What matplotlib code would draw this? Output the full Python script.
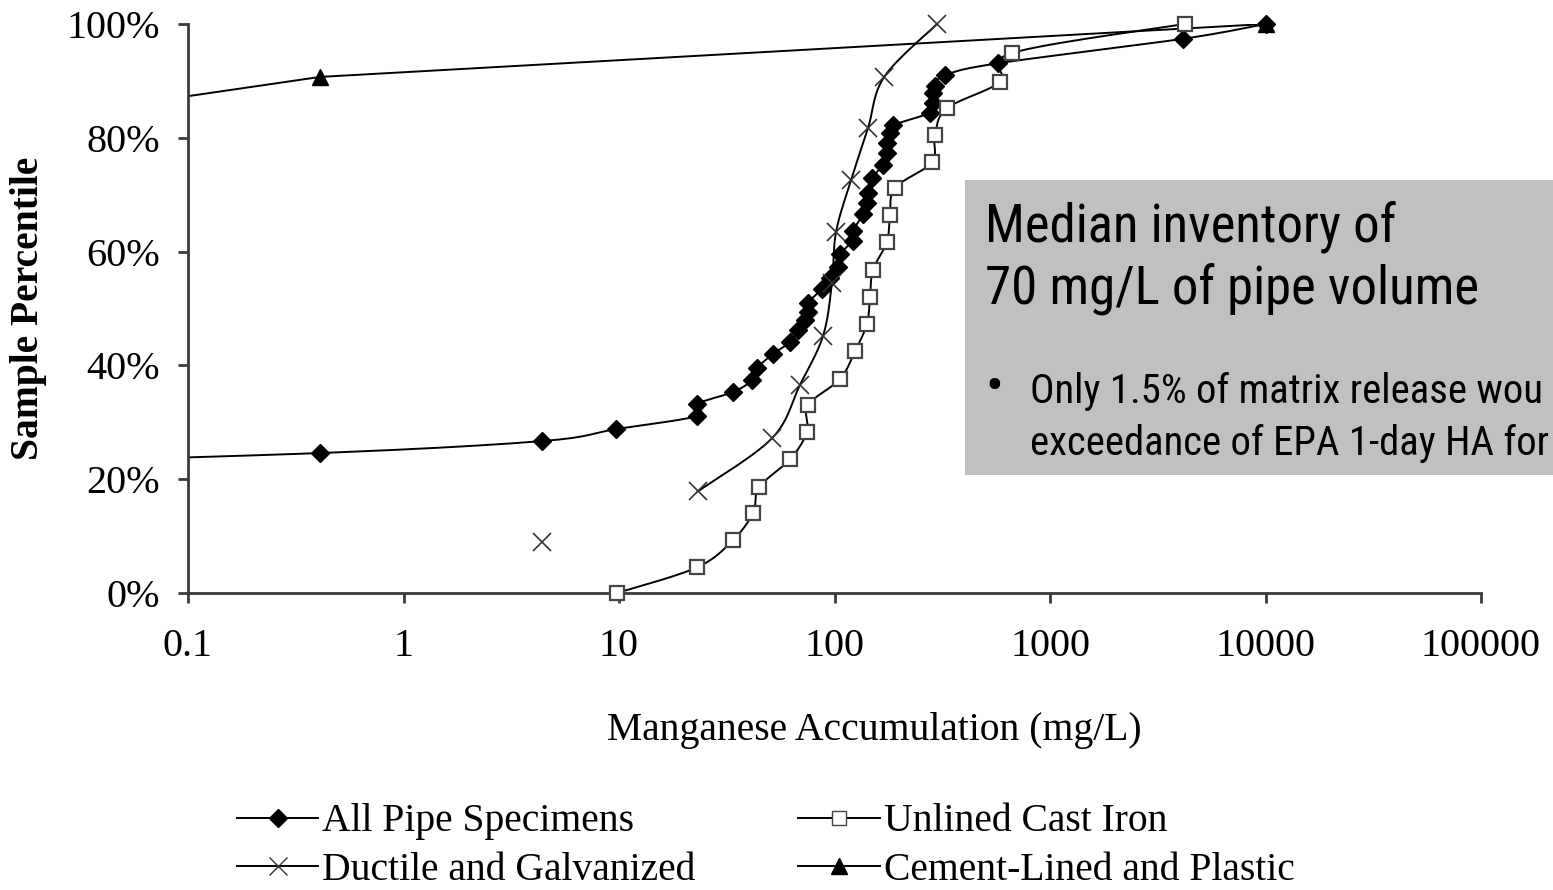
#!/usr/bin/env python3
"""Cumulative distribution of manganese accumulation by pipe material."""

import matplotlib

matplotlib.use("Agg")
import matplotlib.pyplot as plt
import numpy as np
from matplotlib import font_manager
from matplotlib.lines import Line2D
from matplotlib.patches import Rectangle
from matplotlib.ticker import FixedLocator, FuncFormatter, NullLocator

# values (mg/L, sample percentile %)
all_x = [0.006, 0.41, 4.4, 9.7, 23.0, 23.0, 33.8, 41.4, 43.6, 51.9, 62.2, 67.8, 73.0,
         75.3, 75.3, 87.5, 95.3, 103.8, 106, 122, 122, 135.6, 141.5, 143, 149, 168,
         175, 175, 181, 187, 277, 286, 286, 292, 326, 574, 4140, 10000]
all_y = [22.5, 24.6, 26.7, 28.8, 31.1, 33.2, 35.3, 37.4, 39.5, 42.0, 44.1, 46.2, 48.0,
         49.4, 51.0, 53.4, 55.4, 57.3, 59.6, 61.9, 63.6, 66.6, 68.5, 70.3, 72.9, 75.2,
         77.3, 79.1, 80.8, 82.2, 84.4, 86.1, 87.9, 89.1, 91.0, 93.1, 97.4, 100]

cast_x = [9.8, 23.0, 33.8, 41.9, 44.7, 62.2, 74.5, 75.3, 106, 124.5, 141.5, 146, 151,
          175, 181, 191, 283, 292, 333, 586, 667, 4230]
cast_y = [0, 4.5, 9.3, 14.1, 18.6, 23.5, 28.3, 33.0, 37.6, 42.5, 47.3, 52.0, 56.8,
          61.7, 66.4, 71.2, 75.7, 80.5, 85.2, 89.8, 94.9, 100]

ductile_x = [4.4, 23.3, 51.3, 69.2, 88.5, 97.3, 101.6, 119.4, 143, 170, 299]
ductile_y = [8.9, 17.9, 27.2, 36.6, 45.2, 54.5, 63.4, 72.6, 81.7, 90.7, 100]

cement_x = [0.01, 0.41, 10000]
cement_y = [81.8, 90.7, 100]

x_ticks = [0.1, 1, 10, 100, 1000, 10000, 100000]
y_ticks = [0, 20, 40, 60, 80, 100]

SERIF = ["Liberation Serif", "DejaVu Serif"]


def smooth(xs, ys, n=16):
    """Catmull-Rom curve through the points in log-x space (like Excel's smoothed lines)."""
    p = np.column_stack([np.log10(xs), ys])
    p = np.vstack([p[0], p, p[-1]])
    t = np.linspace(0, 1, n, endpoint=False)[:, None]
    parts = []
    for i in range(1, len(p) - 2):
        p0, p1, p2, p3 = p[i - 1], p[i], p[i + 1], p[i + 2]
        parts.append(0.5 * (2 * p1 + (p2 - p0) * t
                            + (2 * p0 - 5 * p1 + 4 * p2 - p3) * t ** 2
                            + (3 * p1 - p0 - 3 * p2 + p3) * t ** 3))
    parts.append(p[-2][None])
    out = np.vstack(parts)
    return 10 ** out[:, 0], out[:, 1]


def narrow_font():
    """Pick a condensed sans if one is installed, else plain Liberation Sans."""
    prefs = ["Liberation Sans Narrow", "Arial Narrow", "Roboto Condensed",
             "Open Sans Condensed", "Noto Sans", "Open Sans", "Roboto", "DejaVu Sans"]
    cands = []
    for f in font_manager.fontManager.ttflist:
        narrow = "Narrow" in f.name or "Condensed" in f.name or f.stretch in (
            "condensed", "semi-condensed", "extra-condensed", 75, 87.5, 62.5)
        if narrow and f.style == "normal" and f.weight in ("normal", "regular", 400):
            rank = next((i for i, n in enumerate(prefs) if f.name.startswith(n)), 99)
            cands.append((rank, f.fname))
    if cands:
        return font_manager.FontProperties(fname=sorted(cands)[0][1])
    return font_manager.FontProperties(family=["Liberation Sans", "DejaVu Sans"])


def fit_text(fig, x, y, s, prop, target_px, size=30):
    txt = fig.text(x, y, s, fontproperties=prop, fontsize=size, va="baseline", zorder=6)
    w = txt.get_window_extent(fig.canvas.get_renderer()).width
    txt.set_fontsize(size * target_px / w)
    return txt.get_fontsize()


def main():
    fig = plt.figure(figsize=(15.53, 8.90), dpi=100)
    ax = fig.add_axes([188 / 1553, 1 - 593 / 890, 1293 / 1553, 569 / 890])
    ax.set_xscale("log")
    ax.set_xlim(0.1, 100000)
    ax.set_ylim(0, 100)

    line_kw = dict(color="black", lw=1.4, zorder=2)
    ax.plot(*smooth(all_x, all_y), **line_kw)
    ax.plot(*smooth(cast_x, cast_y), **line_kw)
    # the first ductile point is not joined to the rest in the source chart
    ax.plot(*smooth(ductile_x[1:], ductile_y[1:]), **line_kw)
    # only three points here, a spline would bow, so keep it straight
    ax.plot(cement_x, cement_y, **line_kw)

    ax.plot(all_x, all_y, ls="none", marker="D", ms=9.5, mfc="black", mec="black",
            zorder=3, clip_on=False)
    ax.plot(cast_x, cast_y, ls="none", marker="s", ms=10, mfc="white", mec="#444444",
            mew=1.6, zorder=3, clip_on=False)
    ax.plot(ductile_x, ductile_y, ls="none", marker="x", ms=13, mec="#333333",
            mew=1.2, zorder=3, clip_on=False)
    ax.plot(cement_x, cement_y, ls="none", marker="^", ms=11, mfc="black", mec="black",
            zorder=3, clip_on=False)

    for side in ("top", "right"):
        ax.spines[side].set_visible(False)
    for side in ("left", "bottom"):
        ax.spines[side].set_linewidth(2)
        ax.spines[side].set_color("#3a3a3a")

    ax.xaxis.set_major_locator(FixedLocator(x_ticks))
    ax.xaxis.set_minor_locator(NullLocator())
    ax.xaxis.set_major_formatter(FuncFormatter(lambda v, _: f"{v:g}" if v < 1e5 else "100000"))
    ax.yaxis.set_major_locator(FixedLocator(y_ticks))
    ax.yaxis.set_major_formatter(FuncFormatter(lambda v, _: f"{v:.0f}%"))
    ax.tick_params(axis="both", direction="out", length=7, width=2, color="#3a3a3a",
                   labelsize=29)
    ax.tick_params(axis="x", pad=18)
    ax.tick_params(axis="y", pad=13)
    for lbl in ax.get_xticklabels() + ax.get_yticklabels():
        lbl.set_family(SERIF)

    ax.set_xlabel("Manganese Accumulation (mg/L)", family=SERIF, fontsize=28.5)
    ax.xaxis.set_label_coords((874 - 188) / 1293, (593 - 712) / 569)
    ax.set_ylabel("Sample Percentile", family=SERIF, fontsize=28.5, fontweight="bold")
    ax.yaxis.set_label_coords((47 - 188) / 1293, 0.5)

    handles = [
        Line2D([], [], color="black", lw=1.4, marker="D", ms=9.5, mfc="black"),
        Line2D([], [], color="black", lw=1.4, marker="x", ms=13, mec="#333333"),
        Line2D([], [], color="black", lw=1.4, marker="s", ms=10, mfc="white", mec="#444444"),
        Line2D([], [], color="black", lw=1.4, marker="^", ms=11, mfc="black"),
    ]
    labels = ["All Pipe Specimens", "Ductile and Galvanized",
              "Unlined Cast Iron", "Cement-Lined and Plastic"]
    fig.legend(handles, labels, ncol=2, frameon=False, loc="center left",
               bbox_to_anchor=(237 / 1553, 1 - 846 / 890),
               prop={"family": SERIF, "size": 28.5}, handlelength=2.05,
               handletextpad=0.1, columnspacing=2.6, labelspacing=0.28,
               borderpad=0, borderaxespad=0)

    # grey call-out box, cut off at the right edge like the source slide
    fig.patches.append(Rectangle((965 / 1553, 1 - 475 / 890), 600 / 1553, 295 / 890,
                                 transform=fig.transFigure, facecolor="#c0c0c2",
                                 edgecolor="none", zorder=5))
    prop = narrow_font()
    head = fit_text(fig, 985 / 1553, 1 - 243 / 890, "Median inventory of", prop, 412)
    fig.text(985 / 1553, 1 - 305 / 890, "70 mg/L of pipe volume", fontproperties=prop,
             fontsize=head, va="baseline", zorder=6)
    body = fit_text(fig, 1030 / 1553, 1 - 455 / 890, "exceedance of EPA 1-day HA for",
                    prop, 518)
    fig.text(1030 / 1553, 1 - 403 / 890, "Only 1.5% of matrix release wou",
             fontproperties=prop, fontsize=body, va="baseline", zorder=6)
    fig.text(985 / 1553, 1 - 403 / 890, "\u2022", fontproperties=prop, fontsize=body * 1.3,
             va="baseline", zorder=6)

    fig.savefig("out.png", dpi=100)
    plt.close(fig)


if __name__ == "__main__":
    main()
